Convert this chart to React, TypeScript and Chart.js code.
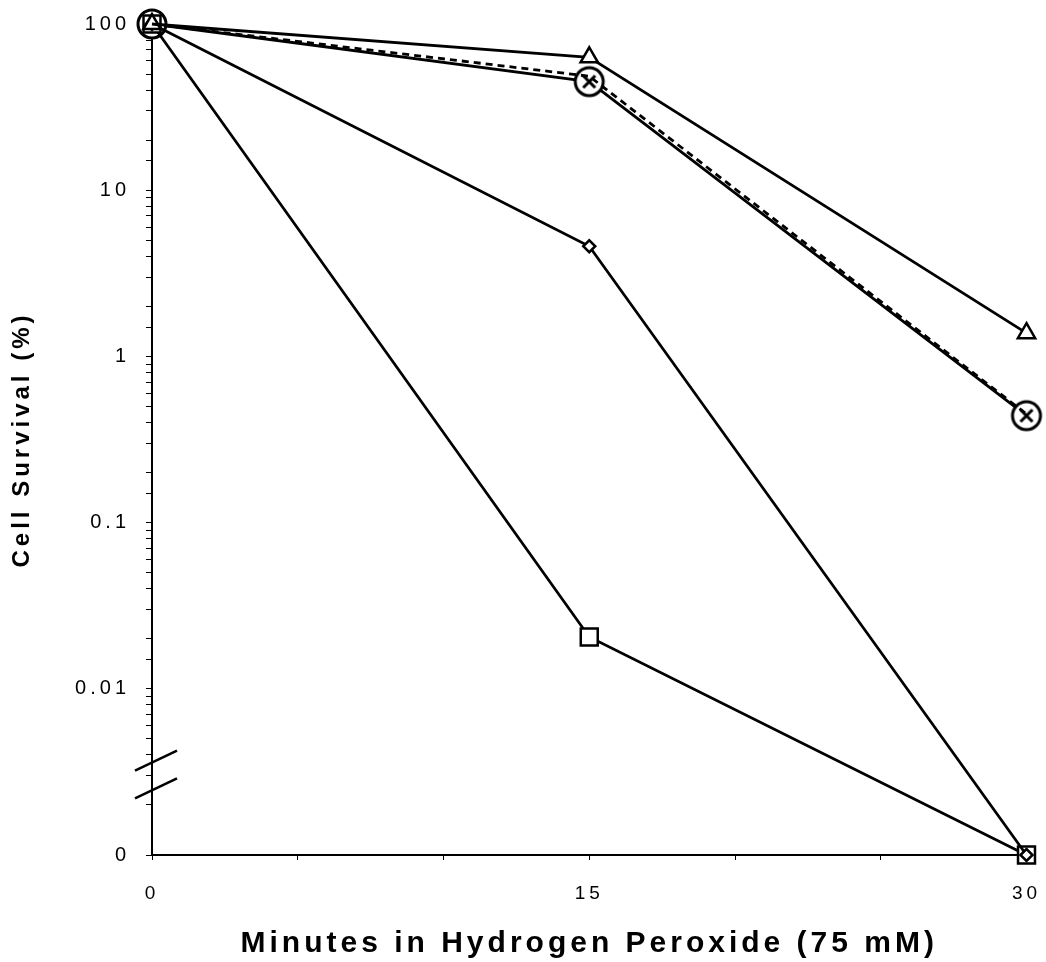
import React, { useEffect, useRef } from "react";
import { Chart, registerables } from "chart.js";

Chart.register(...registerables);

const minutes = [0, 15, 30];
const triangleSeries = [100, 63, 1.38];
const circleXSeries = [100, 45, 0.44];
const dashedSeries = [100, 48.5, 0.45];
const diamondSeries = [100, 4.6, 0.001];
const squareSeries = [100, 0.0205, 0.001];
const yMajorLabels: Record<string, string> = {
  "-3": "0",
  "-2": "0.01",
  "-1": "0.1",
  "0": "1",
  "1": "10",
  "2": "100",
};
const xLabelValues = [0, 15, 30];
const breakValues = [0.0037, 0.00252];

const FONT = "Arial, 'Liberation Sans', Helvetica, sans-serif";

function makeCircleX(): HTMLCanvasElement {
  const c = document.createElement("canvas");
  c.width = 34;
  c.height = 34;
  const g = c.getContext("2d")!;
  g.fillStyle = "#fff";
  g.strokeStyle = "#000";
  g.lineWidth = 3;
  g.beginPath();
  g.arc(17, 17, 14, 0, Math.PI * 2);
  g.fill();
  g.stroke();
  g.beginPath();
  g.moveTo(11, 11);
  g.lineTo(23, 23);
  g.moveTo(23, 11);
  g.lineTo(11, 23);
  g.stroke();
  return c;
}

const spacingPlugin = {
  id: "spacing",
  beforeLayout(chart: any) {
    chart.ctx.letterSpacing = "4px";
  },
  beforeDraw(chart: any) {
    chart.ctx.letterSpacing = "4px";
  },
};

const breakPlugin = {
  id: "axisBreak",
  afterDraw(chart: any) {
    const ctx = chart.ctx;
    const y = chart.scales.y;
    const x0 = chart.chartArea.left;
    ctx.save();
    ctx.strokeStyle = "#000";
    ctx.lineWidth = 2.5;
    breakValues.forEach((v) => {
      const py = y.getPixelForValue(v);
      ctx.beginPath();
      ctx.moveTo(x0 - 17, py + 10);
      ctx.lineTo(x0 + 25, py - 10);
      ctx.stroke();
    });
    ctx.restore();
  },
};

export default function App() {
  const ref = useRef<HTMLCanvasElement>(null);
  useEffect(() => {
    const circleX = makeCircleX();
    const toPts = (arr: number[]) => arr.map((v, i) => ({ x: minutes[i], y: v }));
    const base = {
      borderColor: "#000",
      borderWidth: 2.8,
      pointBorderColor: "#000",
      pointBackgroundColor: "#fff",
      pointBorderWidth: 2.5,
      tension: 0,
      clip: false as any,
    };
    const chart = new Chart(ref.current!, {
      type: "line",
      data: {
        datasets: [
          { ...base, label: "Dashed", data: toPts(dashedSeries), borderDash: [7, 5], pointRadius: 0 },
          { ...base, label: "Triangle", data: toPts(triangleSeries), pointStyle: "triangle", pointRadius: 10 },
          { ...base, label: "Diamond", data: toPts(diamondSeries), pointStyle: "rectRot", pointRadius: 6 },
          { ...base, label: "Square", data: toPts(squareSeries), pointStyle: "rect", pointRadius: 12 },
          { ...base, label: "CircleX", data: toPts(circleXSeries), pointStyle: circleX as any, pointRadius: 17 },
        ],
      },
      options: {
        responsive: false,
        animation: false,
        layout: { padding: { top: 24, right: 19, left: 0, bottom: 0 } },
        plugins: { legend: { display: false }, tooltip: { enabled: false } },
        scales: {
          x: {
            type: "linear",
            min: 0,
            max: 30,
            grid: { drawOnChartArea: false, tickLength: 5, color: "#000" },
            border: { color: "#000", width: 2 },
            ticks: {
              stepSize: 5,
              color: "#000",
              padding: 22,
              maxRotation: 0,
              font: { family: FONT, size: 19 },
              callback: (v: any) => (xLabelValues.includes(Number(v)) ? String(v) : ""),
            },
            title: {
              display: true,
              text: "Minutes in Hydrogen Peroxide (75 mM)",
              color: "#000",
              font: { family: FONT, size: 30, weight: "bold" },
              padding: { top: 0, bottom: 0 },
            },
            afterFit: (s: any) => {
              s.height = 107;
              s.paddingLeft = 0;
              s.paddingRight = 0;
            },
          },
          y: {
            type: "logarithmic",
            min: 0.001,
            max: 100,
            grid: { drawOnChartArea: false, tickLength: 6, color: "#000" },
            border: { color: "#000", width: 2 },
            ticks: {
              color: "#000",
              padding: 16,
              autoSkip: false,
              font: { family: FONT, size: 20 },
              callback: (v: any) => {
                const l = Math.log10(Number(v));
                const r = Math.round(l);
                if (Math.abs(l - r) < 1e-6) return yMajorLabels[String(r)] ?? "";
                return "";
              },
            },
            title: {
              display: true,
              text: "Cell Survival (%)",
              color: "#000",
              font: { family: FONT, size: 24, weight: "bold" },
              padding: { top: 8, bottom: 0 },
            },
            afterFit: (s: any) => {
              s.width = 152;
              s.paddingTop = 0;
              s.paddingBottom = 0;
            },
          },
        },
      },
      plugins: [spacingPlugin, breakPlugin],
    });
    return () => chart.destroy();
  }, []);
  return (
    <div style={{ position: "fixed", left: 0, top: 0, width: 1046, height: 962, background: "#fff" }}>
      <canvas ref={ref} width={1046} height={962} />
    </div>
  );
}
